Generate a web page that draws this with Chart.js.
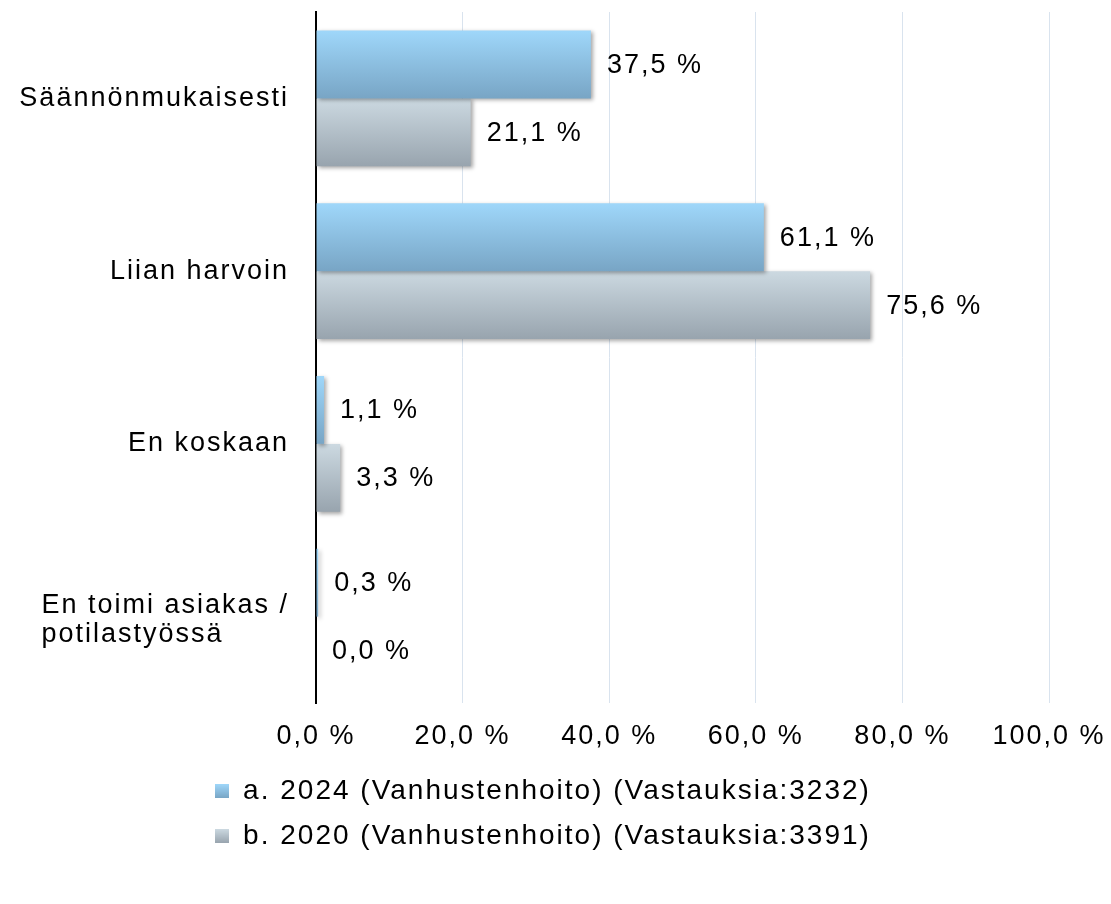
<!DOCTYPE html>
<html lang="fi">
<head>
    <meta charset="UTF-8">
    <title>Vanhustenhoito</title>
    <script src="https://cdn.jsdelivr.net/npm/chart.js"></script>
    <style>
        * {
            margin: 0;
            padding: 0;
            box-sizing: border-box;
        }

        body {
            background: #ffffff;
        }

        .chart-container {
            width: 1111px;
            height: 904px;
        }
    </style>
</head>
<body>
    <div class="chart-container">
        <canvas id="barChart"></canvas>
    </div>

    <script>
        const categories = ['Säännönmukaisesti', 'Liian harvoin', 'En koskaan', ['En toimi asiakas /', 'potilastyössä']];
        const values2024 = [37.5, 61.1, 1.1, 0.3];
        const values2020 = [21.1, 75.6, 3.3, 0.0];
        const xTicks = [0, 20, 40, 60, 80, 100];
        const seriesLabels = [
            'a. 2024 (Vanhustenhoito) (Vastauksia:3232)',
            'b. 2020 (Vanhustenhoito) (Vastauksia:3391)'
        ];

        const FONT = '"Liberation Sans", Arial, sans-serif';
        const FONT_SIZE = 27;
        const LEGEND_SIZE = 28;
        const SPACING = '2px';
        const CAT_PCT = 0.786;

        // top / bottom colours of the bar gradients
        const gradStops = [
            ['#9fd7fa', '#78a5c5'],
            ['#ccd9e1', '#98a4ae']
        ];

        const fmt = v => v.toFixed(1).replace('.', ',') + ' %';

        // small gradient squares for the legend
        function legendSwatch(stops) {
            const c = document.createElement('canvas');
            c.width = 14;
            c.height = 14;
            const g2 = c.getContext('2d');
            const g = g2.createLinearGradient(0, 0, 0, 14);
            g.addColorStop(0, stops[0]);
            g.addColorStop(1, stops[1]);
            g2.fillStyle = g;
            g2.fillRect(0, 0, 14, 14);
            return c;
        }
        const swatches = gradStops.map(legendSwatch);

        function barGradient(context) {
            const chart = context.chart;
            const yScale = chart.scales.y;
            if (!yScale || context.dataIndex === undefined) return gradStops[context.datasetIndex][0];
            const band = yScale.height / categories.length;
            const thick = band * CAT_PCT / 2;
            const center = yScale.getPixelForValue(context.dataIndex);
            const top = center - thick + context.datasetIndex * thick;
            const g = chart.ctx.createLinearGradient(0, top, 0, top + thick);
            g.addColorStop(0, gradStops[context.datasetIndex][0]);
            g.addColorStop(1, gradStops[context.datasetIndex][1]);
            return g;
        }

        const spacingPlugin = {
            id: 'spacing',
            beforeUpdate(chart) { chart.ctx.letterSpacing = SPACING; },
            beforeDraw(chart) { chart.ctx.letterSpacing = SPACING; }
        };

        const shadowPlugin = {
            id: 'barShadow',
            beforeDatasetsDraw(chart) {
                const ctx = chart.ctx;
                ctx.save();
                ctx.shadowColor = 'rgba(0, 0, 0, 0.35)';
                ctx.shadowBlur = 4;
                ctx.shadowOffsetX = 2;
                ctx.shadowOffsetY = 2;
            },
            afterDatasetsDraw(chart) {
                chart.ctx.restore();
            }
        };

        const labelPlugin = {
            id: 'labels',
            afterDraw(chart) {
                const ctx = chart.ctx;
                const yScale = chart.scales.y;
                ctx.save();
                ctx.letterSpacing = SPACING;
                ctx.font = FONT_SIZE + 'px ' + FONT;
                ctx.fillStyle = '#000000';
                ctx.textBaseline = 'middle';

                // category labels
                const rightX = yScale.right - 27;
                categories.forEach((cat, i) => {
                    const cy = yScale.getPixelForValue(i);
                    if (Array.isArray(cat)) {
                        const w = Math.max(...cat.map(l => ctx.measureText(l).width));
                        const lh = 29;
                        const y0 = cy + 3 - (cat.length - 1) * lh / 2;
                        ctx.textAlign = 'left';
                        cat.forEach((line, j) => ctx.fillText(line, rightX - w, y0 + j * lh));
                    } else {
                        ctx.textAlign = 'right';
                        ctx.fillText(cat, rightX, cy);
                    }
                });

                // value labels
                ctx.textAlign = 'left';
                chart.data.datasets.forEach((ds, di) => {
                    chart.getDatasetMeta(di).data.forEach((bar, i) => {
                        ctx.fillText(fmt(ds.data[i]), bar.x + 16, bar.y + 1);
                    });
                });
                ctx.restore();
            }
        };

        const ctx = document.getElementById('barChart').getContext('2d');
        new Chart(ctx, {
            type: 'bar',
            data: {
                labels: categories,
                datasets: [
                    { label: seriesLabels[0], data: values2024, backgroundColor: barGradient },
                    { label: seriesLabels[1], data: values2020, backgroundColor: barGradient }
                ]
            },
            options: {
                indexAxis: 'y',
                responsive: true,
                maintainAspectRatio: false,
                animation: false,
                categoryPercentage: CAT_PCT,
                barPercentage: 1,
                layout: {
                    padding: { top: 12, right: 25, bottom: 44, left: 0 }
                },
                plugins: {
                    tooltip: { enabled: false },
                    legend: {
                        position: 'bottom',
                        labels: {
                            color: '#000000',
                            font: { family: FONT, size: LEGEND_SIZE },
                            usePointStyle: true,
                            boxWidth: 14,
                            boxHeight: 14,
                            padding: 17,
                            generateLabels: chart => chart.data.datasets.map((ds, i) => ({
                                text: ds.label,
                                pointStyle: swatches[i],
                                fillStyle: gradStops[i][1],
                                strokeStyle: gradStops[i][1],
                                lineWidth: 0,
                                datasetIndex: i,
                                fontColor: '#000000'
                            }))
                        }
                    }
                },
                scales: {
                    x: {
                        min: 0,
                        max: 100,
                        afterBuildTicks: scale => {
                            scale.ticks = xTicks.map(v => ({ value: v }));
                        },
                        afterFit: scale => {
                            scale.height = 57;
                            scale.paddingLeft = 0;
                            scale.paddingRight = 62;
                        },
                        ticks: {
                            color: '#000000',
                            font: { family: FONT, size: FONT_SIZE },
                            padding: 17,
                            callback: v => fmt(v)
                        },
                        grid: {
                            color: '#d9e3ee',
                            lineWidth: 1,
                            drawTicks: false
                        },
                        border: { display: false }
                    },
                    y: {
                        ticks: { display: false },
                        afterFit: scale => { scale.width = 316; },
                        grid: { display: false },
                        border: { display: true, color: '#000000', width: 2 }
                    }
                }
            },
            plugins: [spacingPlugin, shadowPlugin, labelPlugin]
        });
    </script>
</body>
</html>
